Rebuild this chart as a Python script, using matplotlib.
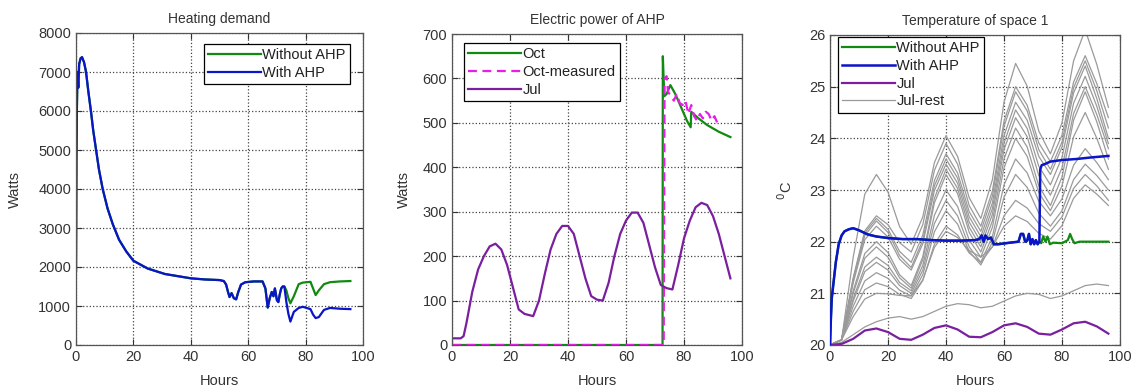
import matplotlib
matplotlib.use('Agg')
import matplotlib.pyplot as plt
import numpy as np

plt.rcParams['font.family'] = ['Liberation Sans', 'DejaVu Sans']

GREEN = '#108a10'
BLUE = '#0a14c8'
PURPLE = '#7a1f9e'
MAGENTA = '#e81ee8'
GRAY = '#9a9a9a'

# ---------- Heating demand ----------
hd_base_t = [0, 0.15, 0.3, 0.5, 0.8, 1.1, 1.6, 2.1, 2.8, 3.5, 4.3, 5.2, 6, 7, 8, 9.3,
             11, 12.8, 15, 17.5, 20, 25, 31, 40, 45, 50, 51.5, 52.3, 53, 53.5,
             54.2, 55, 55.8, 56.5, 57.5, 59, 62, 65, 66, 66.8, 67.5, 68.2, 68.8,
             69.3, 70, 70.5, 71, 71.5, 72, 72.6]
hd_base_w = [1900, 4800, 6000, 7000, 6600, 7200, 7350, 7380, 7250, 7000, 6500, 6000,
             5500, 5000, 4500, 4000, 3500, 3100, 2700, 2400, 2160, 1960, 1820, 1710,
             1680, 1665, 1640, 1550, 1350, 1230, 1330, 1200, 1170, 1350,
             1550, 1610, 1630, 1630, 1450, 960, 1200, 1360, 1250, 1450, 1150, 1100,
             1300, 1450, 1500, 1500]
hd_tail_t = [73.3, 74, 74.7, 75.9, 77.6, 79, 81.7, 82.6, 83.5, 84.6, 86.4, 88.5, 92, 95.6]
hd_without_tail = [1400, 1200, 1070, 1250, 1560, 1600, 1620, 1450, 1280, 1400, 1560,
                   1610, 1630, 1640]
hd_with_tail = [1100, 800, 600, 850, 950, 980, 920, 780, 690, 715, 900, 950, 930, 920]

# ---------- Electric power of AHP ----------
oct_t = [0, 72.6, 72.7, 73.2, 74, 75.3, 77, 79, 81, 82.3, 82.5, 85, 88, 92, 96]
oct_w = [0, 0, 650, 560, 565, 585, 565, 535, 505, 490, 525, 510, 495, 480, 468]
octm_t = [0, 73.0, 73.3, 74, 74.5, 75.5, 76.5, 77.5, 78.5, 79.5, 80.5, 81.5, 82.5,
          83.5, 84.5, 85.5, 86.5, 87.5, 88.5, 89.5, 90.5, 91.5, 92]
octm_w = [0, 0, 600, 605, 570, 560, 550, 565, 545, 540, 550, 520, 540, 515, 505, 520,
          510, 525, 520, 505, 515, 500, 498]
jul_t = [0, 3, 4, 5, 7, 9, 11, 13, 15, 17, 19, 21, 23, 25, 28, 30, 32, 34, 36, 38, 40,
         42, 44, 46, 48, 50, 52, 54, 56, 58, 60, 62, 64, 66, 68, 70, 72, 74, 76, 78, 80,
         82, 84, 86, 88, 90, 92, 94, 96]
jul_w = [15, 15, 20, 50, 120, 170, 200, 222, 228, 215, 180, 130, 80, 70, 65, 100, 160,
         215, 250, 268, 268, 250, 200, 150, 110, 102, 100, 140, 200, 250, 280, 298, 298,
         275, 225, 175, 135, 128, 125, 180, 240, 280, 310, 320, 315, 290, 250, 200, 150]

# ---------- Temperature of space 1 ----------
tmp_base_t = [0, 0.3, 0.6, 1, 1.5, 2, 3, 4, 5, 6.5, 8, 10, 13, 16, 20, 25, 30, 35, 40,
              45, 50, 51.5, 52.3, 53, 53.6, 54.5, 55.5, 56.5, 58, 62, 65, 65.8, 66.6,
              67.3, 68, 68.6, 69.2, 69.8, 70.4, 71, 71.6, 72.2]
tmp_base_c = [20.0, 20.5, 20.9, 21.1, 21.35, 21.6, 21.95, 22.12, 22.2, 22.24, 22.26,
              22.22, 22.14, 22.1, 22.07, 22.05, 22.05, 22.03, 22.02, 22.02, 22.03, 22.05,
              22.12, 22.0, 22.12, 22.05, 22.08, 21.95, 21.95, 21.98, 22.0, 22.15, 22.15,
              22.0, 22.02, 22.15, 21.95, 22.05, 21.95, 22.03, 21.95, 22.0]
tmp_with_t = [72.5, 73, 74, 76, 80, 85, 90, 96]
tmp_with_c = [23.4, 23.48, 23.5, 23.55, 23.58, 23.6, 23.63, 23.66]
tmp_without_t = [72.8, 73.5, 74.3, 75, 75.8, 77, 80, 82, 82.8, 83.5, 84.3, 86, 90, 96]
tmp_without_c = [21.97, 22.1, 22.0, 22.1, 21.95, 21.98, 21.97, 22.03, 22.15, 22.05,
                 21.97, 22.0, 22.0, 22.0]

hours4 = [0, 4, 8, 12, 16, 20, 24, 28, 32, 36, 40, 44, 48, 52, 56, 60, 64, 68, 72,
          76, 80, 84, 88, 92, 96]
jul_temp = [20.0, 20.02, 20.12, 20.28, 20.32, 20.25, 20.12, 20.1, 20.2, 20.33, 20.38,
            20.3, 20.16, 20.15, 20.25, 20.38, 20.42, 20.35, 20.22, 20.2, 20.3, 20.42,
            20.45, 20.36, 20.22]
jul_rest = [
    [20.0, 20.1, 21.7, 22.92, 23.3, 22.96, 22.29, 21.95, 22.48, 23.53, 24.05, 23.65, 22.85,
     22.45, 23.2, 24.7, 25.45, 25.01, 24.14, 23.7, 24.3, 25.5, 26.1, 25.43, 24.6],
    [20.0, 20.1, 21.3, 22.21, 22.5, 22.33, 21.98, 21.8, 22.33, 23.38, 23.9, 23.5, 22.7,
     22.3, 22.98, 24.33, 25.0, 24.64, 23.91, 23.55, 24.06, 25.09, 25.6, 25.06, 24.4],
    [20.0, 20.1, 21.28, 22.17, 22.45, 22.24, 21.81, 21.6, 22.13, 23.18, 23.7, 23.33, 22.58,
     22.2, 22.88, 24.23, 24.9, 24.53, 23.78, 23.4, 23.93, 24.98, 25.5, 24.92, 24.2],
    [20.0, 20.1, 21.25, 22.12, 22.4, 22.18, 21.73, 21.5, 22.03, 23.08, 23.6, 23.23, 22.48,
     22.1, 22.75, 24.05, 24.7, 24.35, 23.65, 23.3, 23.83, 24.88, 25.4, 24.77, 24.0],
    [20.0, 20.1, 21.2, 22.04, 22.3, 22.09, 21.66, 21.45, 21.96, 22.99, 23.5, 23.13, 22.38,
     22.0, 22.64, 23.91, 24.55, 24.19, 23.46, 23.1, 23.63, 24.68, 25.2, 24.62, 23.9],
    [20.0, 20.1, 21.05, 21.77, 22.0, 21.79, 21.36, 21.15, 21.71, 22.84, 23.4, 23.03, 22.28,
     21.9, 22.53, 23.78, 24.4, 24.03, 23.28, 22.9, 23.43, 24.48, 25.0, 24.46, 23.8],
    [20.0, 20.1, 21.0, 21.68, 21.9, 21.7, 21.3, 21.1, 21.65, 22.75, 23.3, 22.93, 22.18,
     21.8, 22.4, 23.6, 24.2, 23.83, 23.08, 22.7, 23.25, 24.35, 24.9, 24.32, 23.6],
    [20.0, 20.1, 20.9, 21.51, 21.7, 21.54, 21.21, 21.05, 21.54, 22.51, 23.0, 22.68, 22.03,
     21.7, 22.28, 23.43, 24.0, 23.65, 22.95, 22.6, 23.08, 24.03, 24.5, 24.0, 23.4],
    [20.0, 20.1, 20.85, 21.42, 21.6, 21.45, 21.15, 21.0, 21.45, 22.35, 22.8, 22.5, 21.9,
     21.6, 22.1, 23.1, 23.6, 23.33, 22.78, 22.5, 22.83, 23.48, 23.8, 23.53, 23.2],
    [20.0, 20.1, 20.75, 21.24, 21.4, 21.29, 21.06, 20.95, 21.36, 22.19, 22.6, 22.34, 21.81,
     21.55, 21.99, 22.86, 23.3, 23.05, 22.55, 22.3, 22.6, 23.2, 23.5, 23.28, 23.0],
    [20.0, 20.1, 20.65, 21.07, 21.2, 21.13, 20.98, 20.9, 21.25, 21.95, 22.3, 22.13, 21.78,
     21.6, 21.9, 22.5, 22.8, 22.65, 22.35, 22.2, 22.48, 23.03, 23.3, 23.08, 22.8],
    [20.0, 20.1, 20.55, 20.89, 21.0, 20.99, 20.96, 20.95, 21.26, 21.89, 22.2, 22.08, 21.83,
     21.7, 21.9, 22.3, 22.5, 22.39, 22.16, 22.05, 22.31, 22.84, 23.1, 22.92, 22.7],
    [20.0, 20.05, 20.2, 20.35, 20.45, 20.52, 20.55, 20.5, 20.55, 20.65, 20.75, 20.8, 20.78,
     20.72, 20.75, 20.85, 20.95, 21.0, 20.98, 20.9, 20.95, 21.05, 21.15, 21.18, 21.15],
]

fig = plt.figure(figsize=(11.36, 3.92), dpi=100)
W, H = 1136.0, 392.0
ax1 = fig.add_axes([76 / W, 47 / H, 287 / W, 312 / H])
ax2 = fig.add_axes([452 / W, 47 / H, 290 / W, 311 / H])
ax3 = fig.add_axes([830 / W, 47 / H, 290 / W, 310 / H])


def style(ax, ylim, yticks, title, ylabel, ypad):
    ax.set_xlim(0, 100)
    ax.set_ylim(*ylim)
    ax.set_xticks(range(0, 101, 20))
    ax.set_yticks(yticks)
    ax.grid(True, linestyle=':', color='#444444', linewidth=0.9)
    ax.tick_params(direction='in', length=4, top=True, right=True,
                   labelsize=10.5, colors='#333333', width=0.8)
    for s in ax.spines.values():
        s.set_color('#555555')
        s.set_linewidth(0.9)
    ax.set_title(title, fontsize=10, color='#333333', pad=7)
    ax.set_xlabel('Hours', fontsize=10.5, color='#333333', labelpad=7)
    ax.set_ylabel(ylabel, fontsize=10.5, color='#333333', labelpad=ypad)


def legend(ax, loc, anchor, handles=None, labels=None):
    if handles is None:
        handles, labels = ax.get_legend_handles_labels()
    lg = ax.legend(handles, labels, loc=loc, bbox_to_anchor=anchor, fontsize=10.5,
                   fancybox=False, edgecolor='black', framealpha=1, handlelength=3.6,
                   handletextpad=0.1, borderpad=0.3, labelspacing=0.25,
                   borderaxespad=0)
    lg.get_frame().set_linewidth(0.9)
    lg.set_zorder(10)
    for t in lg.get_texts():
        t.set_color('#222222')


# panel 1
without_t = hd_base_t + hd_tail_t
ax1.plot(without_t, hd_base_w + hd_without_tail, color=GREEN, lw=1.6, label='Without AHP')
ax1.plot(without_t, hd_base_w + hd_with_tail, color=BLUE, lw=1.6, label='With AHP')
style(ax1, (0, 8000), range(0, 8001, 1000), 'Heating demand', 'Watts', 12)
legend(ax1, 'upper right', (1 - 13 / 287, 1 - 11 / 312))

# panel 2
ax2.plot(oct_t, oct_w, color=GREEN, lw=1.6, label='Oct')
ax2.plot(octm_t, octm_w, color=MAGENTA, lw=1.6, ls=(0, (4, 2.5)), label='Oct-measured')
ax2.plot(jul_t, jul_w, color=PURPLE, lw=1.6, label='Jul')
style(ax2, (0, 700), range(0, 701, 100), 'Electric power of AHP', 'Watts', 8)
legend(ax2, 'upper left', (12 / 290, 1 - 9 / 311))

# panel 3
for i, series in enumerate(jul_rest):
    ax3.plot(hours4, series, color=GRAY, lw=0.9, zorder=2,
             label='Jul-rest' if i == 0 else None)
ax3.plot(tmp_base_t + tmp_without_t, tmp_base_c + tmp_without_c, color=GREEN, lw=1.6,
         zorder=3, label='Without AHP')
ax3.plot(tmp_base_t + tmp_with_t, tmp_base_c + tmp_with_c, color=BLUE, lw=1.8,
         zorder=4, label='With AHP')
ax3.plot(hours4, jul_temp, color=PURPLE, lw=1.6, zorder=3, label='Jul')
style(ax3, (20, 26), range(20, 27), 'Temperature of space 1', '$^0$C', 10)
h, l = ax3.get_legend_handles_labels()
order = [l.index(n) for n in ['Without AHP', 'With AHP', 'Jul', 'Jul-rest']]
legend(ax3, 'upper left', (8 / 290, 1 - 2 / 310),
       [h[i] for i in order], [l[i] for i in order])

fig.savefig('out.png', dpi=100)
